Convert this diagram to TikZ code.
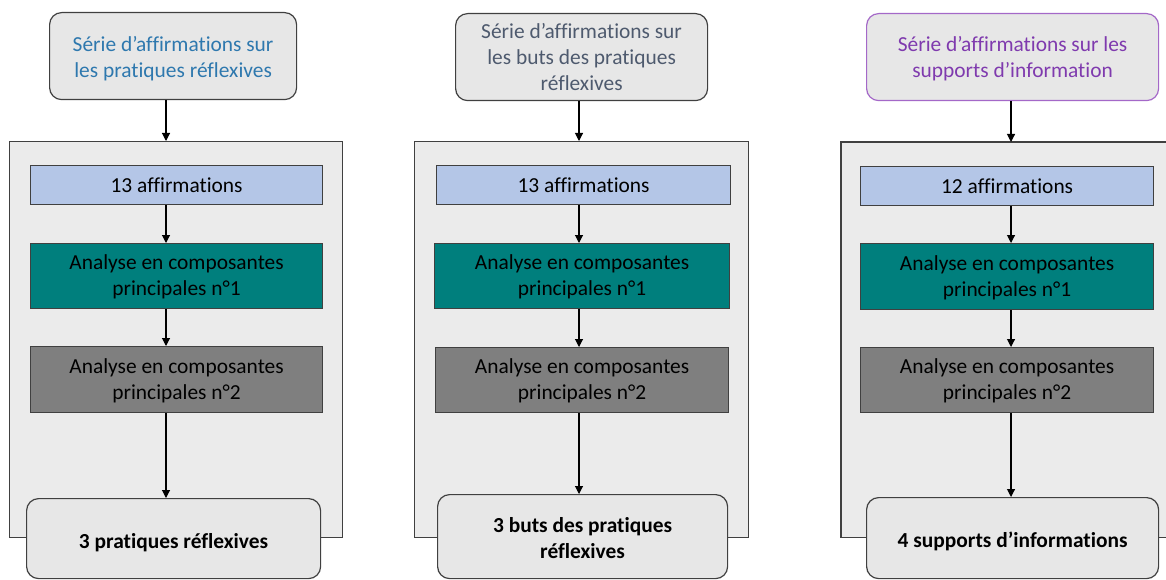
\documentclass[tikz,border=0pt]{standalone}
\usepackage{fontspec}
\setmainfont{Carlito}[Ligatures={TeX,NoCommon}]
\usetikzlibrary{arrows.meta}
\definecolor{linegray}{HTML}{404040}
\definecolor{contgray}{HTML}{EBEBEB}
\definecolor{boxgray}{HTML}{E7E7E7}
\definecolor{affblue}{HTML}{B4C6E7}
\definecolor{acpteal}{HTML}{007F7D}
\definecolor{acpgray}{HTML}{7F7F7F}
\definecolor{bluetext}{HTML}{2E78AE}
\definecolor{slatetext}{HTML}{4E5A6E}
\definecolor{purpletext}{HTML}{7F3AAE}
\definecolor{purpleline}{HTML}{A468C8}
\newcommand{\lowtext}[2]{\raisebox{-#1}[\height][\depth]{\begin{tabular}{@{}c@{}}#2\end{tabular}}}
\newcommand{\lowline}[2]{\raisebox{-#1}[\height][\depth]{#2}}
\begin{document}
\begin{tikzpicture}[x=1pt,y=-1pt,
  basebox/.style={draw=linegray, line width=1.2pt, inner sep=0pt, align=center, anchor=north west,
    font=\fontsize{21.4}{26}\selectfont},
  topbox/.style={basebox, rounded corners=12pt, fill=boxgray},
  resbox/.style={topbox, font=\fontsize{21.4}{26}\selectfont\bfseries},
  contbox/.style={draw=linegray, fill=contgray, line width=1.2pt, inner sep=0pt, anchor=north west},
  affbox/.style={basebox, fill=affblue},
  acpone/.style={basebox, fill=acpteal},
  acptwo/.style={basebox, fill=acpgray},
  arr/.style={draw=black, line width=1.1pt, -{Triangle[length=8pt,width=8pt]}}]
\useasboundingbox (0,0) rectangle (1166,580);
\fill[white] (0,0) rectangle (1166,580);

% ---------- Column 1 ----------
\node[contbox, minimum width=333pt, minimum height=396pt] (c1) at (9,141) {};
\node[topbox, text=bluetext, minimum width=247pt, minimum height=87pt] (t1) at (49,12)
  {\lowtext{3pt}{Série d’affirmations sur\\les pratiques réflexives}};
\node[affbox, minimum width=292pt, minimum height=39pt] (a1) at (30,165) {13 affirmations};
\node[acpone, minimum width=292pt, minimum height=65pt] (p1) at (30,243) {\lowtext{1.5pt}{Analyse en composantes\\principales n°1}};
\node[acptwo, minimum width=292pt, minimum height=66pt] (q1) at (30,346) {\lowtext{1.5pt}{Analyse en composantes\\principales n°2}};
\node[resbox, minimum width=294pt, minimum height=80pt] (r1) at (26,498) {\lowline{4.5pt}{3 pratiques réflexives}};
\coordinate (x1) at (166,0);
\draw[arr] (t1.south -| x1) -- (c1.north -| x1);
\draw[arr] (a1.south -| x1) -- (p1.north -| x1);
\draw[arr] (p1.south -| x1) -- (q1.north -| x1);
\draw[arr] (q1.south -| x1) -- (r1.north -| x1);

% ---------- Column 2 ----------
\node[contbox, minimum width=334pt, minimum height=396pt] (c2) at (414,141) {};
\node[topbox, text=slatetext, minimum width=252pt, minimum height=87pt] (t2) at (455,13)
  {Série d’affirmations sur\\les buts des pratiques\\réflexives};
\node[affbox, minimum width=294pt, minimum height=39pt] (a2) at (436,165) {13 affirmations};
\node[acpone, minimum width=295pt, minimum height=65pt] (p2) at (434,243) {\lowtext{1.5pt}{Analyse en composantes\\principales n°1}};
\node[acptwo, minimum width=293pt, minimum height=65pt] (q2) at (435,347) {\lowtext{1.5pt}{Analyse en composantes\\principales n°2}};
\node[resbox, minimum width=290pt, minimum height=84pt] (r2) at (437,494) {\lowtext{3.5pt}{3 buts des pratiques\\réflexives}};
\coordinate (x2) at (579,0);
\draw[arr] (t2.south -| x2) -- (c2.north -| x2);
\draw[arr] (a2.south -| x2) -- (p2.north -| x2);
\draw[arr] (p2.south -| x2) -- (q2.north -| x2);
\draw[arr] (q2.south -| x2) -- (r2.north -| x2);

% ---------- Column 3 (container runs past the right edge) ----------
\node[inner sep=0pt, fill=contgray, anchor=north west, minimum width=325pt, minimum height=395pt] (c3) at (841,142) {};
\draw[draw=linegray, line width=1.2pt] (c3.north east) -- (c3.north west) -- (c3.south west) -- (c3.south east);
\node[topbox, draw=purpleline, text=purpletext, minimum width=292pt, minimum height=87pt] (t3) at (866,13)
  {\lowtext{2pt}{Série d’affirmations sur les\\supports d’information}};
\node[affbox, minimum width=293pt, minimum height=39pt] (a3) at (860,166) {12 affirmations};
\node[acpone, minimum width=293pt, minimum height=66pt] (p3) at (860,243) {\lowtext{1.5pt}{Analyse en composantes\\principales n°1}};
\node[acptwo, minimum width=293pt, minimum height=65pt] (q3) at (860,347) {\lowtext{1.5pt}{Analyse en composantes\\principales n°2}};
\node[resbox, minimum width=292pt, minimum height=81pt] (r3) at (866,497) {\lowline{3pt}{4 supports d’informations}};
\coordinate (x3) at (1011,0);
\draw[arr] (t3.south -| x3) -- (c3.north -| x3);
\draw[arr] (a3.south -| x3) -- (p3.north -| x3);
\draw[arr] (p3.south -| x3) -- (q3.north -| x3);
\draw[arr] (q3.south -| x3) -- (r3.north -| x3);
\end{tikzpicture}
\end{document}
